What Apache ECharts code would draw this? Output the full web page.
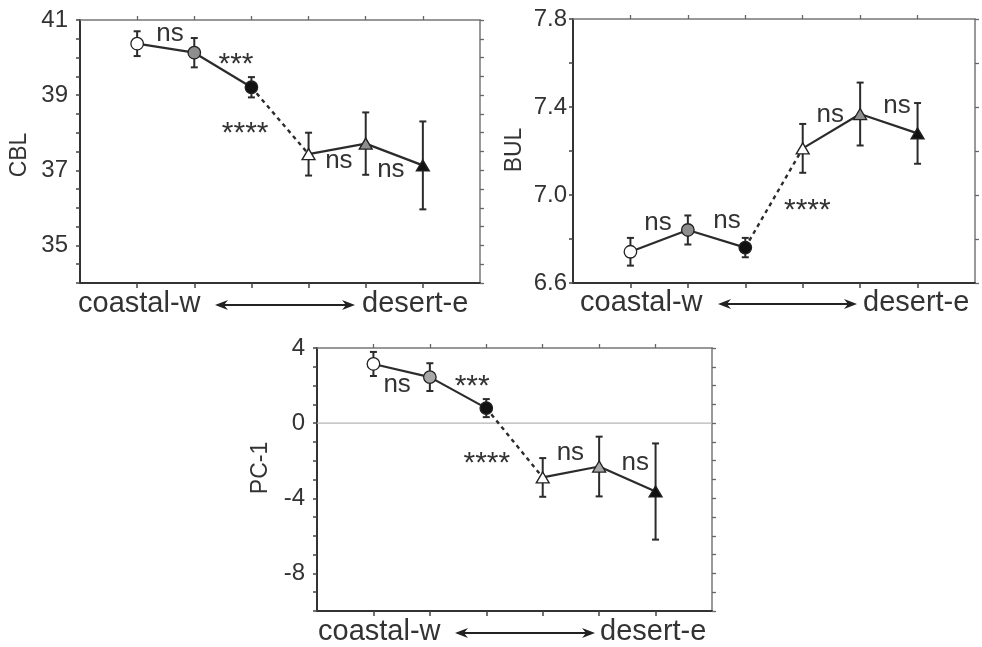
<!DOCTYPE html>
<html>
<head>
<meta charset="utf-8">
<script src="https://cdn.jsdelivr.net/npm/echarts@6/dist/echarts.min.js"></script>
<style>
  html, body { margin: 0; padding: 0; background: #fff; }
  #chart { width: 982px; height: 647px; }
</style>
</head>
<body>
<div id="chart"></div>
<script>
// ---------- data ----------
const groups = ['W1', 'W2', 'W3', 'E1', 'E2', 'E3'];   // coastal-w ... desert-e
const groupX = [1, 2, 3, 4, 5, 6];

const cblMean = [40.37, 40.13, 39.21, 37.43, 37.71, 37.13];
const cblErr  = [0.33, 0.39, 0.27, 0.57, 0.83, 1.17];

const bulMean = [6.742, 6.841, 6.761, 7.212, 7.368, 7.280];
const bulErr  = [0.063, 0.066, 0.044, 0.111, 0.143, 0.138];

const pcMean = [3.15, 2.45, 0.80, -2.89, -2.31, -3.64];
const pcErr  = [0.64, 0.74, 0.48, 1.03, 1.59, 2.56];

// significance annotations: [x, y, text] in data units
const cblNotes = [[1.575, 40.57, 'ns'], [2.73, 39.99, '***'], [2.89, 38.15, '****'], [4.53, 37.21, 'ns'], [5.44, 36.97, 'ns']];
const bulNotes = [[1.48, 6.864, 'ns'], [2.68, 6.873, 'ns'], [4.08, 6.959, '****'], [4.48, 7.355, 'ns'], [5.64, 7.395, 'ns']];
const pcNotes  = [[1.42, 1.94, 'ns'], [2.75, 2.31, '***'], [3.01, -1.79, '****'], [4.49, -1.69, 'ns'], [5.64, -2.22, 'ns']];

const xTextLeft = 'coastal-w';
const xTextRight = 'desert-e';

// ---------- layout / style ----------
const FONT = '"Liberation Sans", Arial, Helvetica, sans-serif';
const INK = '#2b2b2b';
const fills = ['#ffffff', '#8e8e8e', '#111111', '#ffffff', '#8e8e8e', '#111111'];
const shapes = ['circle', 'circle', 'circle', 'triangle', 'triangle', 'triangle'];

const panels = [
  {
    title: 'CBL', mean: cblMean, err: cblErr, notes: cblNotes,
    grid: { left: 80, top: 20, width: 400, height: 263 },
    min: 34, max: 41, step: 0.5, margin: 12,
    fmt: v => { const k = (v - 35) / 2; return Math.abs(k - Math.round(k)) < 1e-6 ? String(Math.round(v)) : ''; },
    titlePos: [20, 155], textY: 304, cw: 78, arrow: [215, 355], de: 362, zero: false, gray: '#8e8e8e'
  },
  {
    title: 'BUL', mean: bulMean, err: bulErr, notes: bulNotes,
    grid: { left: 573, top: 19, width: 402, height: 264 },
    min: 6.6, max: 7.8, step: 0.2, margin: 6,
    fmt: v => { const k = Math.round(v * 10); return (k - 66) % 4 === 0 ? (k / 10).toFixed(1) : ''; },
    titlePos: [515, 150], textY: 303, cw: 580, arrow: [718, 857], de: 863, zero: false, gray: '#8e8e8e'
  },
  {
    title: 'PC-1', mean: pcMean, err: pcErr, notes: pcNotes,
    grid: { left: 317, top: 348, width: 395, height: 263 },
    min: -10, max: 4, step: 1, margin: 12,
    fmt: v => { const k = Math.round(v); return k % 4 === 0 ? String(k) : ''; },
    titlePos: [261, 468], textY: 632, cw: 318, arrow: [455, 595], de: 600, zero: true, gray: '#a8a8a8'
  }
];

const grids = [], xAxes = [], yAxes = [], series = [], graphics = [];

panels.forEach((p, i) => {
  grids.push(Object.assign({ containLabel: false }, p.grid));
  const tickVals = groupX.slice();
  // bottom + top x axes
  xAxes.push({
    gridIndex: i, type: 'value', position: 'bottom', min: 0, max: 7, interval: 1,
    axisLine: { show: true, onZero: false, lineStyle: { color: '#333', width: 2 } },
    axisTick: { show: true, inside: false, length: 5, customValues: tickVals, lineStyle: { color: '#444', width: 1.5 } },
    axisLabel: { show: false }, splitLine: { show: false }
  });
  xAxes.push({
    gridIndex: i, type: 'value', position: 'top', min: 0, max: 7, interval: 1,
    axisLine: { show: true, onZero: false, lineStyle: { color: '#777', width: 1.5 } },
    axisTick: { show: true, inside: false, length: 4, customValues: tickVals, lineStyle: { color: '#666', width: 1.3 } },
    axisLabel: { show: false }, splitLine: { show: false }
  });
  // left + right y axes
  yAxes.push({
    gridIndex: i, type: 'value', position: 'left', min: p.min, max: p.max, interval: p.step,
    axisLine: { show: true, onZero: false, lineStyle: { color: '#333', width: 2 } },
    axisTick: { show: true, inside: false, length: 4, lineStyle: { color: '#444', width: 1.5 } },
    axisLabel: { show: true, margin: p.margin, formatter: p.fmt, fontFamily: FONT, fontSize: 24, color: '#333' },
    splitLine: { show: false }
  });
  yAxes.push({
    gridIndex: i, type: 'value', position: 'right', min: p.min, max: p.max, interval: p.step,
    axisLine: { show: true, onZero: false, lineStyle: { color: '#777', width: 1.5 } },
    axisTick: { show: true, inside: false, length: 4, lineStyle: { color: '#666', width: 1.3 } },
    axisLabel: { show: false }, splitLine: { show: false }
  });

  const xi = 2 * i, yi = 2 * i;
  const pts = groupX.map((x, k) => [x, p.mean[k]]);

  if (p.zero) {
    series.push({
      type: 'line', xAxisIndex: xi, yAxisIndex: yi, data: [[0, 0], [7, 0]],
      showSymbol: false, silent: true, z: 1,
      lineStyle: { color: '#b5b5b5', width: 1.2 }
    });
  }
  series.push({
    type: 'line', xAxisIndex: xi, yAxisIndex: yi, data: pts.slice(0, 3),
    showSymbol: false, z: 2, lineStyle: { color: INK, width: 2.2 }
  });
  series.push({
    type: 'line', xAxisIndex: xi, yAxisIndex: yi, data: pts.slice(3, 6),
    showSymbol: false, z: 2, lineStyle: { color: INK, width: 2.2 }
  });
  series.push({
    type: 'line', xAxisIndex: xi, yAxisIndex: yi, data: pts.slice(2, 4),
    showSymbol: false, z: 2, lineStyle: { color: INK, width: 2.4, type: [4, 4] }
  });
  series.push({
    type: 'custom', xAxisIndex: xi, yAxisIndex: yi, z: 3,
    data: groupX.map((x, k) => [x, p.mean[k] - p.err[k], p.mean[k] + p.err[k]]),
    renderItem: (params, api) => {
      const x = api.value(0);
      const lo = api.coord([x, api.value(1)]);
      const hi = api.coord([x, api.value(2)]);
      const w = 3.5;
      const st = { stroke: INK, lineWidth: 2 };
      return {
        type: 'group', children: [
          { type: 'line', shape: { x1: hi[0], y1: hi[1], x2: lo[0], y2: lo[1] }, style: st },
          { type: 'line', shape: { x1: hi[0] - w, y1: hi[1], x2: hi[0] + w, y2: hi[1] }, style: st },
          { type: 'line', shape: { x1: lo[0] - w, y1: lo[1], x2: lo[0] + w, y2: lo[1] }, style: st }
        ]
      };
    }
  });
  series.push({
    type: 'scatter', xAxisIndex: xi, yAxisIndex: yi, z: 4,
    itemStyle: { opacity: 1 },
    data: pts.map((v, k) => ({
      value: v,
      symbol: shapes[k],
      symbolSize: shapes[k] === 'circle' ? 12.5 : [13, 11],
      itemStyle: { opacity: 1, color: fills[k] === '#8e8e8e' ? p.gray : fills[k], borderColor: '#222', borderWidth: 1.3 }
    }))
  });
  series.push({
    type: 'scatter', xAxisIndex: xi, yAxisIndex: yi, z: 5, symbolSize: 0, silent: true,
    itemStyle: { opacity: 1 },
    data: p.notes.map(n => {
      const star = n[2].indexOf('*') >= 0;
      return {
        value: [n[0], n[1]], name: n[2],
        label: {
          show: true, formatter: '{b}', position: 'inside',
          fontFamily: FONT, fontSize: star ? 30 : 26, color: '#333',
          offset: star ? [0, 7] : [0, -2]
        }
      };
    })
  });

  // axis title & direction text
  graphics.push({
    type: 'text', x: p.titlePos[0], y: p.titlePos[1], rotation: Math.PI / 2,
    style: { text: p.title, font: '23px ' + FONT, fill: '#333', align: 'center', verticalAlign: 'middle' }
  });
  graphics.push({
    type: 'text', x: p.cw, y: p.textY,
    style: { text: xTextLeft, font: '29px ' + FONT, fill: '#333', align: 'left', verticalAlign: 'middle' }
  });
  graphics.push({
    type: 'text', x: p.de, y: p.textY,
    style: { text: xTextRight, font: '29px ' + FONT, fill: '#333', align: 'left', verticalAlign: 'middle' }
  });
  const ay = p.textY + 1, a0 = p.arrow[0], a1 = p.arrow[1], hl = 13, hw = 5;
  graphics.push({
    type: 'line', shape: { x1: a0 + 6, y1: ay, x2: a1 - 6, y2: ay }, style: { stroke: '#222', lineWidth: 2.2 }
  });
  graphics.push({
    type: 'polygon', shape: { points: [[a0, ay], [a0 + hl, ay - hw], [a0 + hl - 4, ay], [a0 + hl, ay + hw]] },
    style: { fill: '#222' }
  });
  graphics.push({
    type: 'polygon', shape: { points: [[a1, ay], [a1 - hl, ay - hw], [a1 - hl + 4, ay], [a1 - hl, ay + hw]] },
    style: { fill: '#222' }
  });
});

const chart = echarts.init(document.getElementById('chart'), null, { renderer: 'canvas' });
chart.setOption({
  backgroundColor: '#ffffff',
  animation: false,
  textStyle: { fontFamily: FONT },
  grid: grids,
  xAxis: xAxes,
  yAxis: yAxes,
  series: series,
  graphic: graphics
});
</script>
</body>
</html>
